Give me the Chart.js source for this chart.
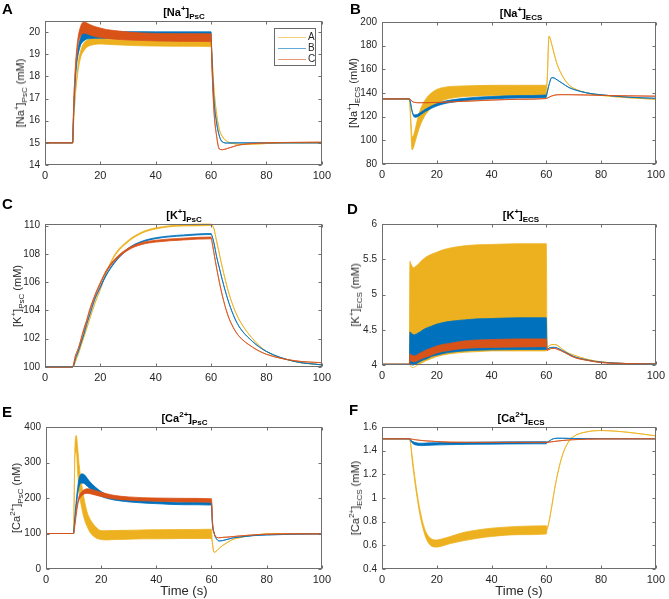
<!DOCTYPE html>
<html>
<head>
<meta charset="utf-8">
<script src="https://cdn.jsdelivr.net/npm/chart.js@4.4.0/dist/chart.umd.min.js"></script>
<style>
    body { margin: 0; background: #fff; font-family: "Liberation Sans", Arial, sans-serif; }
    #fig { position: relative; width: 669px; height: 599px; overflow: hidden; }
    .panel { position: absolute; }
    .letter { position: absolute; font-weight: bold; font-size: 15px; color: #000; }
    .title { position: absolute; font-weight: bold; font-size: 11px; color: #000; white-space: nowrap; transform: translateX(-50%); }
    .ylab { position: absolute; font-size: 11px; line-height: 12px; color: #262626; white-space: nowrap; transform: translate(-50%, -50%) rotate(-90deg); }
    sup, sub { font-size: 8px; line-height: 0; }
    #legend { position: absolute; left: 274px; top: 28px; width: 40px; height: 36px; border: 1px solid #6a6a6a; background: #fff; font-size: 10px; color: #262626; }
    .lrow { position: absolute; left: 0; height: 11px; width: 40px; }
    .lline { position: absolute; left: 3px; top: 5px; width: 28px; height: 1px; }
    .ltext { position: absolute; left: 33px; top: -1px; }
</style>
</head>
<body>
<div id="fig"></div>
<script>
// time axis shared by every panel (s)
const T = [0, 10, 10.2, 10.5, 11, 11.5, 12, 13, 14, 15, 16, 18, 20, 22, 25, 30, 35, 40, 50, 60, 60.3, 61, 62, 63, 64, 66, 68, 70, 75, 80, 90, 100];
const seriesNames = ["A", "B", "C"];
const xTicks = [0, 20, 40, 60, 80, 100];

// upper edge of each trace; the *Lo arrays give the lower edge where the trace oscillates (null = thin line)
const naPscA = [15, 15, 15.6, 16.3, 17.3, 18.0, 18.6, 19.2, 19.5, 19.62, 19.68, 19.71, 19.71, 19.69, 19.66, 19.63, 19.61, 19.6, 19.59, 19.58, 19.0, 17.5, 16.3, 15.6, 15.3, 15.05, 14.97, 14.94, 14.94, 14.97, 15.0, 15.0];
const naPscALo = [null, null, null, null, 17.2, 17.8, 18.3, 18.9, 19.15, 19.3, 19.38, 19.44, 19.46, 19.45, 19.43, 19.4, 19.38, 19.37, 19.36, 19.35, null, null, null, null, null, null, null, null, null, null, null, null];
const naPscB = [15, 15, 15.8, 16.8, 18.0, 18.8, 19.3, 19.8, 20.0, 20.05, 20.05, 20.04, 20.03, 20.03, 20.02, 20.02, 20.02, 20.01, 20.01, 20.01, 18.8, 17.0, 15.9, 15.3, 15.05, 14.99, 15.0, 15.0, 15.0, 15.0, 15.0, 15.0];
const naPscBLo = [null, null, null, null, 17.9, 18.6, 19.0, 19.45, 19.6, 19.68, 19.7, 19.72, 19.72, 19.72, 19.72, 19.72, 19.72, 19.71, 19.71, 19.7, null, null, null, null, null, null, null, null, null, null, null, null];
const naPscC = [15, 15, 16.0, 17.2, 18.5, 19.3, 19.8, 20.3, 20.45, 20.42, 20.35, 20.25, 20.18, 20.12, 20.07, 20.0, 19.96, 19.94, 19.93, 19.92, 18.5, 16.5, 15.3, 14.72, 14.69, 14.75, 14.83, 14.9, 14.97, 15.0, 15.02, 15.03];
const naPscCLo = [null, null, null, null, 18.3, 19.0, 19.5, 19.85, 19.95, 19.93, 19.88, 19.8, 19.75, 19.72, 19.68, 19.64, 19.62, 19.6, 19.58, 19.57, null, null, null, null, null, null, null, null, null, null, null, null];

const naEcsA = [135, 135, 130, 120, 103, 104, 108, 118, 126, 131, 135, 140, 143, 144.5, 145.5, 146, 146.3, 146.5, 146.5, 146.5, 150, 188, 181, 172, 164, 154, 147.5, 144, 140, 138, 136, 134.7];
const naEcsALo = [null, null, null, 112, 92, 94, 98, 106, 113, 118, 122, 127.5, 131, 133.5, 135.5, 137, 137.5, 137.8, 138, 138, null, null, null, null, null, null, null, null, null, null, null, null];
const naEcsB = [135, 135, 134, 131, 125, 122, 121.5, 122, 123.5, 125, 126.5, 129, 131, 132.5, 134, 135.5, 136.5, 137, 137.8, 138.3, 140, 147, 153, 152.5, 151, 148, 145, 143, 140, 138.5, 136.5, 135.5];
const naEcsBLo = [null, null, null, 130, 124, 120.5, 119.5, 120, 121.5, 123, 124.5, 127, 129, 130.5, 132, 133.5, 134.5, 135, 135.8, 136.3, null, null, null, null, null, null, null, null, null, null, null, null];
const naEcsC = [135, 135, 134.8, 134, 133, 132.3, 132, 131.8, 131.8, 131.8, 131.8, 131.9, 132, 132.2, 132.5, 133, 133.5, 134, 134.7, 135.3, 135.6, 136.5, 137.5, 138.2, 138.5, 138.6, 138.6, 138.5, 138.3, 138, 137.6, 137.3];

const kPscA = [100, 100, 100.02, 100.1, 100.4, 100.65, 100.9, 101.5, 102.1, 102.7, 103.3, 104.5, 105.5, 106.6, 107.9, 108.95, 109.55, 109.85, 110.07, 110.12, 110.05, 109.8, 108.9, 108.0, 107.1, 105.5, 104.3, 103.4, 102.0, 101.1, 100.4, 100.15];
const kPscALo = [null, null, null, null, null, null, null, null, null, null, null, null, null, null, 107.8, 108.85, 109.47, 109.77, 109.98, 110.02, null, null, null, null, null, null, null, null, null, null, null, null];
const kPscB = [100, 100, 100.05, 100.2, 100.6, 100.85, 101.1, 101.7, 102.3, 103.0, 103.6, 104.8, 105.7, 106.5, 107.4, 108.4, 108.9, 109.15, 109.35, 109.45, 109.3, 108.8, 107.8, 107.0, 106.2, 104.8, 103.7, 102.9, 101.8, 101.1, 100.4, 100.15];
const kPscBLo = [null, null, null, null, null, null, null, null, null, null, null, null, 105.63, 106.43, 107.33, 108.33, 108.83, 109.08, 109.28, 109.38, null, null, null, null, null, null, null, null, null, null, null, null];
const kPscC = [100, 100, 100.1, 100.35, 100.8, 101.05, 101.3, 102.0, 102.7, 103.3, 104.0, 105.1, 106.0, 106.8, 107.6, 108.4, 108.8, 108.97, 109.12, 109.2, 108.9, 108.1, 107.0, 106.0, 105.1, 103.7, 102.8, 102.2, 101.4, 100.9, 100.45, 100.3];
const kPscCLo = [null, null, null, null, null, null, null, 101.87, 102.57, 103.17, 103.87, 104.97, 105.87, 106.67, 107.47, 108.27, 108.67, 108.84, 108.99, 109.07, null, null, null, null, null, null, null, null, null, null, null, null];

const kEcsA = [4.01, 4.01, 5.47, 5.44, 5.4, 5.38, 5.39, 5.42, 5.46, 5.5, 5.53, 5.57, 5.6, 5.63, 5.66, 5.69, 5.705, 5.71, 5.72, 5.72, 4.24, 4.27, 4.29, 4.29, 4.28, 4.22, 4.17, 4.14, 4.08, 4.045, 4.02, 4.015];
const kEcsALo = [null, null, 4.0, 3.98, 3.965, 3.965, 3.975, 4.0, 4.02, 4.04, 4.06, 4.09, 4.12, 4.14, 4.16, 4.18, 4.19, 4.2, 4.2, 4.2, null, null, null, null, null, null, null, null, null, null, null, null];
const kEcsB = [4.01, 4.01, 4.47, 4.46, 4.44, 4.43, 4.43, 4.45, 4.47, 4.5, 4.52, 4.55, 4.58, 4.6, 4.62, 4.64, 4.655, 4.66, 4.67, 4.67, 4.22, 4.24, 4.25, 4.25, 4.24, 4.2, 4.16, 4.12, 4.07, 4.04, 4.02, 4.015];
const kEcsBLo = [null, null, 4.02, 4.01, 4.0, 4.0, 4.01, 4.03, 4.05, 4.07, 4.08, 4.12, 4.14, 4.16, 4.18, 4.2, 4.21, 4.215, 4.22, 4.22, null, null, null, null, null, null, null, null, null, null, null, null];
const kEcsC = [4.01, 4.01, 4.16, 4.15, 4.14, 4.13, 4.13, 4.15, 4.17, 4.19, 4.21, 4.24, 4.27, 4.29, 4.31, 4.34, 4.355, 4.36, 4.37, 4.37, 4.21, 4.22, 4.235, 4.235, 4.225, 4.19, 4.15, 4.11, 4.065, 4.035, 4.02, 4.012];
const kEcsCLo = [null, null, 4.07, 4.06, 4.05, 4.045, 4.045, 4.06, 4.08, 4.1, 4.11, 4.14, 4.17, 4.19, 4.21, 4.235, 4.245, 4.25, 4.255, 4.26, null, null, null, null, null, null, null, null, null, null, null, null];

const caPscA = [100, 100, 200, 345, 376, 340, 295, 235, 190, 158, 140, 119, 108, 108, 108.5, 109, 110, 110.5, 111, 112, 75, 47, 52, 60, 66, 76, 84, 88, 95, 99, 100, 99];
const caPscALo = [null, null, 190, 320, 330, 270, 220, 170, 138, 118, 103, 88, 83, 82, 83, 84, 85, 85, 86, 86, null, null, null, null, null, null, null, null, null, null, null, null];
const caPscB = [100, 100, 120, 150, 195, 230, 255, 268, 265, 255, 245, 230, 218, 210, 203, 197, 193, 191, 188, 187, 130, 100, 83, 79, 80, 84, 88, 90, 94, 96, 98, 99];
const caPscBLo = [null, null, 118, 140, 180, 210, 232, 242, 240, 233, 226, 214, 205, 199, 194, 189, 186, 184, 181, 180, null, null, null, null, null, null, null, null, null, null, null, null];
const caPscC = [100, 100, 110, 130, 165, 190, 205, 218, 224, 226, 225, 221, 216, 212, 207, 203, 201, 200, 199, 198, 140, 100, 89, 88, 89, 90, 91.5, 93, 96, 98, 99, 99];
const caPscCLo = [null, null, 108, 125, 155, 180, 195, 207, 212, 213, 212, 208, 204, 201, 197, 194, 192, 191, 189, 188, null, null, null, null, null, null, null, null, null, null, null, null];

const caEcsA = [1.5, 1.5, 1.49, 1.45, 1.36, 1.265, 1.175, 1.015, 0.885, 0.785, 0.715, 0.655, 0.645, 0.655, 0.675, 0.71, 0.73, 0.745, 0.76, 0.765, 0.74, 0.8, 0.93, 1.07, 1.19, 1.37, 1.47, 1.52, 1.56, 1.57, 1.555, 1.525];
const caEcsALo = [null, null, null, null, 1.32, 1.225, 1.135, 0.975, 0.84, 0.74, 0.665, 0.595, 0.585, 0.595, 0.615, 0.64, 0.66, 0.675, 0.69, 0.695, null, null, null, null, null, null, null, null, null, null, null, null];
const caEcsB = [1.5, 1.5, 1.497, 1.49, 1.48, 1.475, 1.47, 1.465, 1.463, 1.463, 1.464, 1.466, 1.467, 1.468, 1.469, 1.471, 1.472, 1.473, 1.475, 1.476, 1.472, 1.48, 1.495, 1.503, 1.505, 1.505, 1.504, 1.503, 1.502, 1.501, 1.5, 1.5];
const caEcsBLo = [null, null, null, 1.482, 1.466, 1.456, 1.45, 1.445, 1.443, 1.443, 1.444, 1.446, 1.448, 1.449, 1.451, 1.453, 1.454, 1.455, 1.457, 1.458, null, null, null, null, null, null, null, null, null, null, null, null];
const caEcsC = [1.5, 1.5, 1.5, 1.499, 1.497, 1.495, 1.493, 1.49, 1.487, 1.485, 1.483, 1.48, 1.477, 1.475, 1.472, 1.47, 1.47, 1.47, 1.47, 1.47, 1.47, 1.472, 1.475, 1.478, 1.481, 1.486, 1.49, 1.493, 1.497, 1.499, 1.5, 1.5];

const yTicksNaPsc = [14, 15, 16, 17, 18, 19, 20];
const yTicksNaEcs = [80, 100, 120, 140, 160, 180, 200];
const yTicksKPsc = [100, 102, 104, 106, 108, 110];
const yTicksKEcs = [4, 4.5, 5, 5.5, 6];
const yTicksCaPsc = [0, 100, 200, 300, 400];
const yTicksCaEcs = [0.4, 0.6, 0.8, 1, 1.2, 1.4, 1.6];

const seriesColors = ["#EDB120", "#0072BD", "#D95319"];
const fontFamily = "'Liberation Sans', Arial, sans-serif";
const xTickFont = { family: fontFamily, size: 11 };
const yTickFont = { family: fontFamily, size: 10 };

const panels = [
    { letter: "A", lx: 2, ly: 0, left: 0, top: 0, w: 335, h: 195, area: { l: 45, r: 323, t: 21, b: 165 }, ylx: 19.5,
      yMin: 14, yMax: 20.5, yTicks: yTicksNaPsc, hi: [naPscA, naPscB, naPscC], lo: [naPscALo, naPscBLo, naPscCLo],
      title: "[Na<sup>+</sup>]<sub>PsC</sub>", ylab: "[Na<sup>+</sup>]<sub>PsC</sub> (mM)" },
    { letter: "B", lx: 350, ly: 0, left: 335, top: 0, w: 334, h: 195, area: { l: 47, r: 325, t: 22, b: 164 }, ylx: 18,
      yMin: 80, yMax: 200, yTicks: yTicksNaEcs, hi: [naEcsA, naEcsB, naEcsC], lo: [naEcsALo, naEcsBLo, null],
      title: "[Na<sup>+</sup>]<sub>ECS</sub>", ylab: "[Na<sup>+</sup>]<sub>ECS</sub> (mM)" },
    { letter: "C", lx: 2, ly: 195, left: 0, top: 195, w: 335, h: 195, area: { l: 45, r: 323, t: 29, b: 172 }, ylx: 17,
      yMin: 100, yMax: 110.12, yTicks: yTicksKPsc, hi: [kPscA, kPscB, kPscC], lo: [kPscALo, kPscBLo, kPscCLo],
      title: "[K<sup>+</sup>]<sub>PsC</sub>", ylab: "[K<sup>+</sup>]<sub>PsC</sub> (mM)" },
    { letter: "D", lx: 347, ly: 200, left: 335, top: 195, w: 334, h: 195, area: { l: 47, r: 325, t: 29, b: 170 }, ylx: 20,
      yMin: 4, yMax: 6, yTicks: yTicksKEcs, hi: [kEcsA, kEcsB, kEcsC], lo: [kEcsALo, kEcsBLo, kEcsCLo],
      title: "[K<sup>+</sup>]<sub>ECS</sub>", ylab: "[K<sup>+</sup>]<sub>ECS</sub> (mM)" },
    { letter: "E", lx: 2, ly: 403, left: 0, top: 390, w: 335, h: 209, area: { l: 46, r: 323, t: 37, b: 179 }, ylx: 16,
      yMin: 0, yMax: 400, yTicks: yTicksCaPsc, hi: [caPscA, caPscB, caPscC], lo: [caPscALo, caPscBLo, caPscCLo],
      title: "[Ca<sup>2+</sup>]<sub>PsC</sub>", ylab: "[Ca<sup>2+</sup>]<sub>PsC</sub> (nM)", xTitle: "Time (s)" },
    { letter: "F", lx: 349, ly: 401, left: 335, top: 390, w: 334, h: 209, area: { l: 47, r: 325, t: 37, b: 179 }, ylx: 20,
      yMin: 0.4, yMax: 1.6, yTicks: yTicksCaEcs, hi: [caEcsA, caEcsB, caEcsC], lo: [caEcsALo, caEcsBLo, null],
      title: "[Ca<sup>2+</sup>]<sub>ECS</sub>", ylab: "[Ca<sup>2+</sup>]<sub>ECS</sub> (mM)", xTitle: "Time (s)" },
];

// MATLAB-like box with inward tick marks on all four sides
const axesBox = {
    id: "axesBox",
    afterDraw(chart) {
        const { ctx, chartArea: a, scales } = chart;
        const L = Math.round(a.left) + 0.5;
        const R = Math.round(a.right) - 0.5;
        const top = Math.round(a.top) + 0.5;
        const bot = Math.round(a.bottom) - 0.5;
        ctx.save();
        ctx.strokeStyle = "#6e6e6e";
        ctx.lineWidth = 1;
        ctx.strokeRect(L, top, R - L, bot - top);
        ctx.beginPath();
        for (const t of scales.y.ticks) {
            const py = Math.round(scales.y.getPixelForValue(t.value)) + 0.5;
            ctx.moveTo(L, py); ctx.lineTo(L + 3, py);
            ctx.moveTo(R, py); ctx.lineTo(R - 3, py);
        }
        for (const t of scales.x.ticks) {
            const px = Math.round(scales.x.getPixelForValue(t.value)) + 0.5;
            ctx.moveTo(px, bot); ctx.lineTo(px, bot - 3);
            ctx.moveTo(px, top); ctx.lineTo(px, top + 3);
        }
        ctx.stroke();
        ctx.restore();
    },
};

function traceSets(hi, lo, color) {
    const upper = T.map((t, i) => ({ x: t, y: hi[i] }));
    const lower = T.map((t, i) => ({ x: t, y: lo && lo[i] !== null ? lo[i] : hi[i] }));
    const common = { borderColor: color, borderWidth: 0.8, pointRadius: 0, cubicInterpolationMode: "monotone", clip: 3 };
    return [
        { ...common, data: upper, fill: false },
        { ...common, data: lower, fill: "-1", backgroundColor: color },
    ];
}

const fig = document.getElementById("fig");

function buildPanel(p) {
    const box = document.createElement("div");
    box.className = "panel";
    box.style.left = p.left + "px";
    box.style.top = p.top + "px";
    const canvas = document.createElement("canvas");
    canvas.width = p.w;
    canvas.height = p.h;
    box.appendChild(canvas);
    fig.appendChild(box);

    const letter = document.createElement("div");
    letter.className = "letter";
    letter.textContent = p.letter;
    letter.style.left = p.lx + "px";
    letter.style.top = p.ly + "px";
    fig.appendChild(letter);

    const title = document.createElement("div");
    title.className = "title";
    title.innerHTML = p.title;
    title.style.left = (p.left + (p.area.l + p.area.r) / 2) + "px";
    title.style.top = (p.top + p.area.t - 15) + "px";
    fig.appendChild(title);

    const ylab = document.createElement("div");
    ylab.className = "ylab";
    ylab.innerHTML = p.ylab;
    ylab.style.left = (p.left + p.ylx) + "px";
    ylab.style.top = (p.top + (p.area.t + p.area.b) / 2) + "px";
    fig.appendChild(ylab);

    // C drawn last in the list so it sits on top, A at the bottom
    const datasets = [];
    for (const k of [2, 1, 0]) {
        datasets.push(...traceSets(p.hi[k], p.lo[k], seriesColors[k]));
    }

    const noGrid = { display: false, drawTicks: false, tickLength: 0 };

    new Chart(canvas, {
        type: "line",
        data: { datasets },
        options: {
            responsive: false,
            animation: false,
            events: [],
            layout: { padding: { top: p.area.t, right: p.w - p.area.r, bottom: 0, left: 0 } },
            plugins: { legend: { display: false }, tooltip: { enabled: false } },
            scales: {
                x: {
                    type: "linear",
                    min: 0,
                    max: 100,
                    grid: noGrid,
                    border: { display: false },
                    afterBuildTicks: (s) => { s.ticks = xTicks.map((v) => ({ value: v })); },
                    afterFit: (s) => { s.height = p.h - p.area.b; },
                    ticks: { color: "#262626", font: xTickFont, padding: 4, maxRotation: 0, autoSkip: false },
                    title: {
                        display: Boolean(p.xTitle),
                        text: p.xTitle || "",
                        color: "#262626",
                        font: { family: fontFamily, size: 13 },
                        padding: { top: 0, bottom: 0 },
                    },
                },
                y: {
                    type: "linear",
                    min: p.yMin,
                    max: p.yMax,
                    grid: noGrid,
                    border: { display: false },
                    afterBuildTicks: (s) => { s.ticks = p.yTicks.map((v) => ({ value: v })); },
                    afterFit: (s) => { s.width = p.area.l; },
                    ticks: {
                        color: "#262626",
                        font: yTickFont,
                        padding: 5,
                        autoSkip: false,
                        callback: (v) => String(Math.round(v * 1000) / 1000),
                    },
                },
            },
        },
        plugins: [axesBox],
    });
}

panels.forEach(buildPanel);

// legend of panel A
const legend = document.createElement("div");
legend.id = "legend";
seriesNames.forEach((name, i) => {
    const row = document.createElement("div");
    row.className = "lrow";
    row.style.top = (2.5 + i * 11) + "px";
    row.innerHTML = `<div class="lline" style="background:${seriesColors[i]};opacity:0.6"></div><div class="ltext">${name}</div>`;
    legend.appendChild(row);
});
fig.appendChild(legend);
</script>
</body>
</html>
